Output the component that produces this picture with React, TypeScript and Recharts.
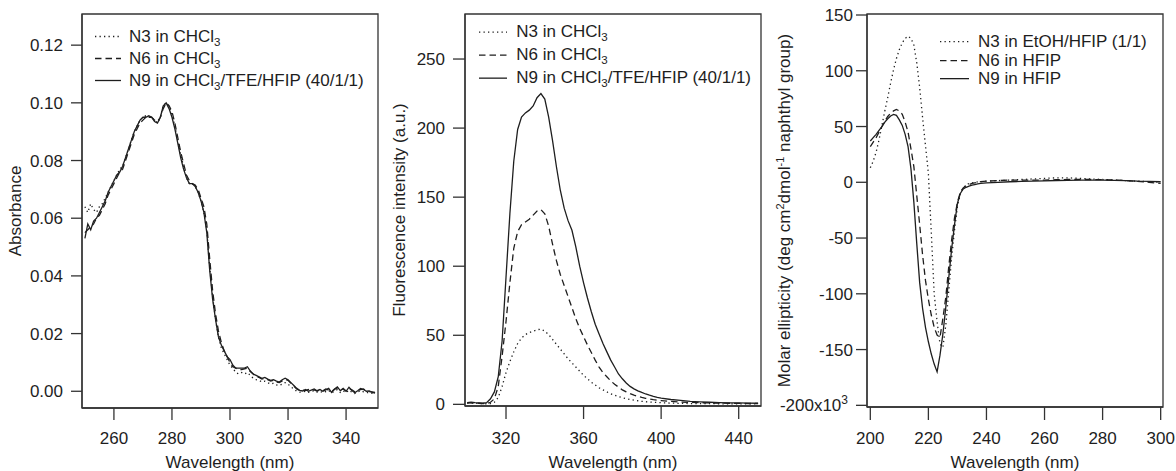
import { LineChart, Line, XAxis, YAxis, Legend, Label, ReferenceArea } from 'recharts'

// ---- absorbance (1 nm steps)
const absWavelength = [
  250, 251, 252, 253, 254, 255, 256, 257, 258, 259,
  260, 261, 262, 263, 264, 265, 266, 267, 268, 269,
  270, 271, 272, 273, 274, 275, 276, 277, 278, 279,
  280, 281, 282, 283, 284, 285, 286, 287, 288, 289,
  290, 291, 292, 293, 294, 295, 296, 297, 298, 299,
  300, 301, 302, 303, 304, 305, 306, 307, 308, 309,
  310, 311, 312, 313, 314, 315, 316, 317, 318, 319,
  320, 321, 322, 323, 324, 325, 326, 327, 328, 329,
  330, 331, 332, 333, 334, 335, 336, 337, 338, 339,
  340, 341, 342, 343, 344, 345, 346, 347, 348, 349, 350,
]
const absN3 = [
  0.064, 0.062, 0.065, 0.063, 0.062, 0.064, 0.065, 0.067, 0.069, 0.071,
  0.073, 0.075, 0.077, 0.078, 0.081, 0.084, 0.087, 0.09, 0.092, 0.094,
  0.095, 0.0955, 0.095, 0.095, 0.094, 0.093, 0.095, 0.099, 0.1, 0.0985,
  0.096, 0.092, 0.087, 0.082, 0.078, 0.074, 0.072, 0.072, 0.071, 0.069,
  0.066, 0.062, 0.056, 0.043, 0.033, 0.025, 0.019, 0.015, 0.013, 0.011,
  0.009, 0.008, 0.0065, 0.006, 0.0065, 0.006, 0.0065, 0.0055, 0.0045, 0.004,
  0.0038, 0.0032, 0.0035, 0.003, 0.0025, 0.0028, 0.0022, 0.002, 0.0025, 0.003,
  0.0025, 0.0015, 0.0008, 0.0, -0.0003, -0.0002, 0.0, -0.0004, -0.0001, 0.0002,
  -0.0003, 0.0, -0.0005, -0.0001, 0.0003, -0.0006, 0.0, 0.0006, -0.0004, 0.0002,
  -0.0005, 0.0004, -0.0003, -0.0008, -0.0003, 0.0002, -0.0002, -0.0005, -0.0004, -0.0007, -0.0008,
]
const absN6 = [
  0.055, 0.056, 0.057, 0.058, 0.06, 0.061, 0.063, 0.065, 0.068, 0.07,
  0.072, 0.074, 0.076, 0.077, 0.08, 0.083, 0.086, 0.089, 0.091, 0.093,
  0.094, 0.095, 0.095, 0.095, 0.094, 0.0935, 0.095, 0.098, 0.1, 0.099,
  0.097, 0.093, 0.088, 0.083, 0.079, 0.075, 0.073, 0.072, 0.0715, 0.07,
  0.067, 0.064, 0.058, 0.046, 0.035, 0.027, 0.021, 0.017, 0.014, 0.012,
  0.01, 0.0085, 0.008, 0.0075, 0.0075, 0.0078, 0.008, 0.0068, 0.006, 0.005,
  0.0048, 0.0042, 0.0045, 0.004, 0.0035, 0.0038, 0.0032, 0.003, 0.0036, 0.0042,
  0.0038, 0.0028, 0.0018, 0.0008, 0.0002, 0.0004, 0.0002, 0.0006, 0.0002, 0.0005,
  0.0001, 0.0004, 0.0002, 0.0008, 0.0004, 0.0, 0.0006, 0.0012, 0.0004, 0.0008,
  0.0001, 0.001, 0.0005, -0.0002, 0.0003, 0.0006, 0.0008, 0.0001, -0.0001, -0.0002, -0.0004,
]
const absN9 = [
  0.053, 0.058, 0.056, 0.059, 0.06, 0.062, 0.064, 0.066, 0.069, 0.071,
  0.073, 0.075, 0.076, 0.078, 0.081, 0.084, 0.087, 0.09, 0.092, 0.094,
  0.095, 0.095, 0.0955, 0.095, 0.0935, 0.093, 0.095, 0.099, 0.1, 0.098,
  0.095, 0.091, 0.086, 0.081, 0.077, 0.074, 0.072, 0.072, 0.071, 0.069,
  0.066, 0.062, 0.055, 0.042, 0.032, 0.025, 0.019, 0.016, 0.014, 0.012,
  0.011, 0.009, 0.008, 0.008, 0.008, 0.008, 0.0085, 0.007, 0.006, 0.0055,
  0.005, 0.0045, 0.0048, 0.0042, 0.0038, 0.004, 0.0035, 0.0032, 0.004, 0.0045,
  0.004, 0.003, 0.002, 0.001, 0.0003, 0.0001, 0.0006, 0.0, 0.0004, 0.0008,
  0.0002, 0.0006, 0.0, 0.0005, 0.001, -0.0004, 0.0008, 0.0015, 0.0002, 0.001,
  0.0, 0.0014, 0.0003, -0.0005, 0.0002, 0.001, 0.0006, 0.0, 0.0001, -0.0004, -0.0006,
]

// ---- fluorescence
const flWavelength = [
  300, 302, 304, 306, 308, 310, 312, 314, 316, 318,
  320, 322, 324, 326, 328, 330, 332, 334, 336, 338,
  340, 342, 344, 346, 348, 350, 352, 354, 356, 358,
  360, 362, 364, 366, 368, 370, 372, 374, 376, 378,
  380, 382, 384, 386, 388, 390, 392, 394, 396, 398,
  400, 405, 410, 415, 420, 425, 430, 435, 440, 445, 450,
]
const flN3 = [
  0.8, 1.0, 0.8, 0.6, 0.5, 0.4, 0.5, 1.5, 5, 13,
  23, 31, 38, 44, 48, 50.5, 52, 53, 54, 54.5,
  53, 50.5, 47, 43.5, 40, 36.5, 33, 30, 27, 24,
  21, 18.5, 16, 14, 12, 10.5, 9, 7.7, 6.6, 5.6,
  4.8, 4.1, 3.5, 3, 2.6, 2.2, 1.9, 1.7, 1.5, 1.3,
  1.2, 0.9, 0.7, 0.6, 0.5, 0.5, 0.4, 0.4, 0.4, 0.3, 0.3,
]
const flN6 = [
  1.0, 1.2, 1.0, 0.8, 0.6, 0.6, 1.5, 4, 13, 35,
  60, 88, 113, 125, 130, 132, 134, 137, 140, 141,
  138, 129, 116, 104, 94, 86, 78, 70, 62, 55,
  49, 43, 37.5, 32, 27, 23, 20, 17, 14.5, 12.5,
  10.5, 9, 7.7, 6.6, 5.7, 5, 4.4, 3.9, 3.4, 3.0,
  2.7, 2.1, 1.7, 1.4, 1.2, 1.0, 0.9, 0.8, 0.7, 0.6, 0.6,
]
const flN9 = [
  1.2, 1.5, 1.2, 1.0, 0.8, 1.2, 4, 9, 20, 46,
  92, 138, 176, 199, 208, 211, 213, 216, 222, 225,
  221, 208, 191, 172, 155, 142, 133, 126, 114, 100,
  88, 77, 67, 58, 51, 44, 38, 32, 27, 22,
  18.5, 15.5, 13, 11.2, 9.8, 8.6, 7.5, 6.6, 5.8, 5.1,
  4.5, 3.5, 2.8, 2.2, 1.8, 1.5, 1.3, 1.1, 1.0, 0.9, 0.8,
]

// ---- circular dichroism (x10^3)
const cdWavelength = [
  200, 201, 202, 203, 204, 205, 206, 207, 208, 209,
  210, 211, 212, 213, 214, 215, 216, 217, 218, 219,
  220, 221, 222, 223, 224, 225, 226, 227, 228, 229,
  230, 231, 232, 233, 234, 235, 236, 237, 238, 239, 240,
  244, 248, 252, 256, 260, 264, 268, 272, 276, 280, 284, 288, 292, 296, 300,
]
const cdN3 = [
  13, 19, 27, 38, 51, 64, 76, 89, 101, 111,
  119, 125, 129, 131, 129, 123, 107, 85, 58, 33,
  8, -45, -100, -125, -145, -148, -128, -98, -68, -43,
  -22, -10, -5, -2.5, -1, -0.5, 0, 0.3, 0.5, 0.8, 1,
  1.5, 2, 2.5, 3, 3.5, 4, 4, 3.5, 3, 2.5, 2, 1.5, 1, 0.5, 0,
]
const cdN6 = [
  32, 36, 40, 45, 50, 55, 59, 62, 64, 65.3,
  64, 61, 54, 45, 30, 14, -12, -38, -65, -88,
  -105, -119, -130, -137, -139, -122, -103, -76, -52, -32,
  -18, -9, -5, -3, -2, -1, -0.5, 0, 0.5, 0.8, 1,
  1.5, 2, 2, 2, 2, 2.3, 2.5, 2.5, 2.5, 2.3, 2, 1.5, 0.8, 0, -1,
]
const cdN9 = [
  37, 40, 43, 46.5, 50, 54, 57, 59.5, 60.8, 60,
  56, 51, 43, 32, 12, -18, -55, -90, -113, -130,
  -143, -154, -163, -170, -155, -136, -112, -86, -60, -38,
  -19, -10, -6, -4.5, -3.5, -2.5, -2, -1.5, -1, -0.7, -0.5,
  0, 0.5, 0.8, 1, 1.3, 1.6, 1.8, 2, 2, 2, 1.8, 1.5, 1, 0.8, 0.5,
]

const absTicksX = [260, 280, 300, 320, 340]
const absTicksY = [0, 0.02, 0.04, 0.06, 0.08, 0.1, 0.12]
const flTicksX = [320, 360, 400, 440]
const flMinorX = [300, 340, 380, 420]
const flTicksY = [0, 50, 100, 150, 200, 250]
const cdTicksX = [200, 220, 240, 260, 280, 300]
const cdTicksY = [-200, -150, -100, -50, 0, 50, 100, 150]

const absLegend = ['N3 in CHCl_3', 'N6 in CHCl_3', 'N9 in CHCl_3/TFE/HFIP (40/1/1)']
const cdLegend = ['N3 in EtOH/HFIP (1/1)', 'N6 in HFIP', 'N9 in HFIP']

const FONT = '"Liberation Sans", Arial, Helvetica, sans-serif'
const INK = '#1e1e1e'
const FRAME = '#333'
const DASHES = ['1.3 3.2', '6.5 4', undefined]
const axisLine = { stroke: FRAME, strokeWidth: 1.3 }
const tickText = { fontSize: 17, fill: INK }

const pts = (xs: number[], ys: number[]) => xs.map((x, i) => ({ x, y: ys[i] }))

// "CHCl_3" -> CHCl with subscript 3
function rich(label: string) {
  const parts = label.split(/_(\d)/)
  return parts.map((p, i) =>
    i % 2 === 1 ? (
      <span key={i} style={{ fontSize: '0.68em', position: 'relative', top: '0.35em' }}>{p}</span>
    ) : (
      <span key={i}>{p}</span>
    )
  )
}

function LegendBox({ labels, rowH, lineW, gap }: { labels: string[]; rowH: number; lineW: number; gap: number }) {
  return (
    <div style={{ fontSize: 17, color: INK, fontFamily: FONT, lineHeight: `${rowH}px` }}>
      {labels.map((label, i) => (
        <div key={label} style={{ display: 'flex', alignItems: 'center', height: rowH, whiteSpace: 'nowrap' }}>
          <svg width={lineW + gap} height={rowH} style={{ flex: 'none' }}>
            <line x1={0} x2={lineW} y1={rowH / 2 - 0.5} y2={rowH / 2 - 0.5} stroke={INK} strokeWidth={1.3} strokeDasharray={DASHES[i]} />
          </svg>
          <span>{rich(label)}</span>
        </div>
      ))}
    </div>
  )
}

const xTitle = (props: any) => {
  const vb = props.viewBox || {}
  return (
    <text x={vb.x + vb.width / 2} y={467.5} textAnchor="middle" fontSize={17} fill={INK}>
      Wavelength (nm)
    </text>
  )
}

const yTitle = (text: any, bx: number) => (props: any) => {
  const vb = props.viewBox || {}
  const cy = vb.y + vb.height / 2
  return (
    <text x={bx} y={cy} transform={`rotate(-90 ${bx} ${cy})`} textAnchor="middle" fontSize={17} fill={INK}>
      {text}
    </text>
  )
}

const cdTitle = (
  <>
    Molar ellipticity (deg cm<tspan dy={-6} fontSize={11}>2</tspan>
    <tspan dy={6}>dmol</tspan>
    <tspan dy={-6} fontSize={11}>-1</tspan>
    <tspan dy={6}> naphthyl group)</tspan>
  </>
)

function CdTick({ x, y, payload }: any) {
  const v = payload.value
  if (v === -200) {
    return (
      <text x={x - 5} y={y} dy="0.355em" textAnchor="end" fontSize={17} fill={INK}>
        -200x10<tspan dy={-7} fontSize={12}>3</tspan>
      </text>
    )
  }
  return (
    <text x={x} y={y} dy="0.355em" textAnchor="end" fontSize={17} fill={INK}>
      {v}
    </text>
  )
}

export default function App() {
  const absSeries = [absN3, absN6, absN9]
  const flSeries = [flN3, flN6, flN9]
  const cdSeries = [cdN3, cdN6, cdN9]

  return (
    <div style={{ position: 'absolute', left: 0, top: 0, width: 1176, height: 471, background: '#fff', fontFamily: FONT }}>
      {/* absorbance */}
      <div style={{ position: 'absolute', left: 0, top: 0 }}>
        <LineChart width={392} height={471} margin={{ top: 14, right: 14, bottom: 0, left: 0 }}>
          <XAxis xAxisId="a" type="number" dataKey="x" domain={[249, 351]} ticks={absTicksX} allowDataOverflow
            height={63} tickSize={12} tickMargin={12} axisLine={axisLine} tickLine={axisLine} tick={tickText}>
            <Label content={xTitle} />
          </XAxis>
          <YAxis yAxisId="a" type="number" domain={[-0.0058, 0.1308]} ticks={absTicksY} allowDataOverflow
            width={82} tickSize={11} tickMargin={8} axisLine={axisLine} tickLine={axisLine} tick={tickText}
            tickFormatter={(v: number) => v.toFixed(2)}>
            <Label content={yTitle('Absorbance', 20.5)} />
          </YAxis>
          <ReferenceArea xAxisId="a" yAxisId="a" x1={249} x2={351} y1={-0.0058} y2={0.1308}
            fill="none" stroke={FRAME} strokeWidth={1.3} ifOverflow="visible" />
          <Legend layout="vertical" align="center" verticalAlign="middle"
            wrapperStyle={{ left: 95, top: 26.4, width: 290 }}
            content={() => <LegendBox labels={absLegend} rowH={22} lineW={26} gap={8} />} />
          {absSeries.map((ys, i) => (
            <Line key={i} xAxisId="a" yAxisId="a" data={pts(absWavelength, ys)} dataKey="y" type="linear"
              stroke={INK} strokeWidth={1.3} strokeDasharray={DASHES[i]} dot={false} isAnimationActive={false} />
          ))}
        </LineChart>
      </div>

      {/* fluorescence */}
      <div style={{ position: 'absolute', left: 384, top: 0 }}>
        <LineChart width={400} height={471} margin={{ top: 14, right: 23, bottom: 0, left: 0 }}>
          <XAxis xAxisId="m" type="number" domain={[298.85, 451.5]} ticks={flMinorX} allowDataOverflow
            height={0} tick={false} tickSize={6} axisLine={false} tickLine={axisLine} />
          <XAxis xAxisId="b" type="number" dataKey="x" domain={[298.85, 451.5]} ticks={flTicksX} allowDataOverflow
            height={65} tickSize={13} tickMargin={13} axisLine={axisLine} tickLine={axisLine} tick={tickText}>
            <Label content={xTitle} />
          </XAxis>
          <YAxis yAxisId="a" type="number" domain={[-1.2, 282.6]} ticks={flTicksY} allowDataOverflow
            width={81} tickSize={12} tickMargin={8} axisLine={axisLine} tickLine={axisLine} tick={tickText}>
            <Label content={yTitle('Fluorescence intensity (a.u.)', 21.3)} />
          </YAxis>
          <ReferenceArea xAxisId="b" yAxisId="a" x1={298.85} x2={451.5} y1={-1.2} y2={282.6}
            fill="none" stroke={FRAME} strokeWidth={1.3} ifOverflow="visible" />
          <Legend layout="vertical" align="center" verticalAlign="middle"
            wrapperStyle={{ left: 94.7, top: 20.8, width: 290 }}
            content={() => <LegendBox labels={absLegend} rowH={23.3} lineW={28} gap={9.6} />} />
          {flSeries.map((ys, i) => (
            <Line key={i} xAxisId="b" yAxisId="a" data={pts(flWavelength, ys)} dataKey="y" type="linear"
              stroke={INK} strokeWidth={1.3} strokeDasharray={DASHES[i]} dot={false} isAnimationActive={false} />
          ))}
        </LineChart>
      </div>

      {/* circular dichroism */}
      <div style={{ position: 'absolute', left: 766, top: 0 }}>
        <LineChart width={410} height={471} margin={{ top: 14, right: 13, bottom: 0, left: 0 }}>
          <XAxis xAxisId="a" type="number" dataKey="x" domain={[198.86, 300.8]} ticks={cdTicksX} allowDataOverflow
            height={64} tickSize={13} tickMargin={12} axisLine={axisLine} tickLine={axisLine} tick={tickText}>
            <Label content={xTitle} />
          </XAxis>
          <YAxis yAxisId="a" type="number" domain={[-201.5, 150.9]} ticks={cdTicksY} allowDataOverflow
            width={101} tickSize={11} tickMargin={3} axisLine={axisLine} tickLine={axisLine} tick={<CdTick />}>
            <Label content={yTitle(cdTitle, 23.5)} />
          </YAxis>
          <ReferenceArea xAxisId="a" yAxisId="a" x1={198.86} x2={300.8} y1={-201.5} y2={150.9}
            fill="none" stroke={FRAME} strokeWidth={1.3} ifOverflow="visible" />
          <Legend layout="vertical" align="center" verticalAlign="middle"
            wrapperStyle={{ left: 173.7, top: 33.3, width: 220 }}
            content={() => <LegendBox labels={cdLegend} rowH={18.3} lineW={29} gap={9.3} />} />
          {cdSeries.map((ys, i) => (
            <Line key={i} xAxisId="a" yAxisId="a" data={pts(cdWavelength, ys)} dataKey="y" type="linear"
              stroke={INK} strokeWidth={1.3} strokeDasharray={DASHES[i]} dot={false} isAnimationActive={false} />
          ))}
        </LineChart>
      </div>
    </div>
  )
}
